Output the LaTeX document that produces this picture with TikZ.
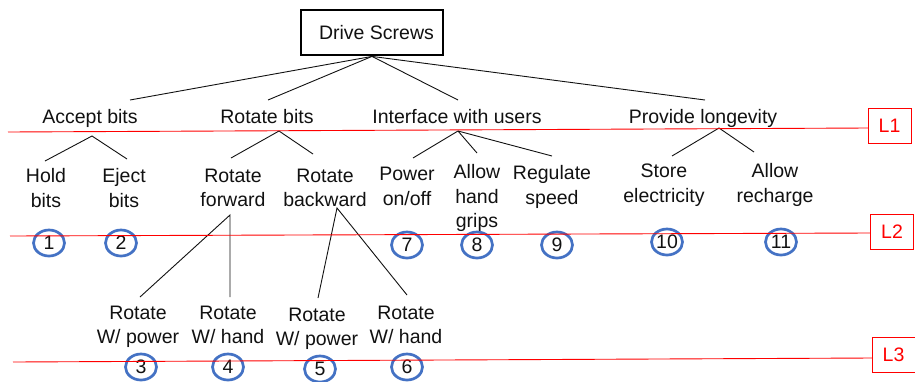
\documentclass[tikz,border=0pt]{standalone}
\usepackage{fontspec}
\setmainfont{Liberation Sans}
\usetikzlibrary{shapes.geometric}
\definecolor{ringblue}{HTML}{4472C4}
\definecolor{levelred}{HTML}{FF0000}
\definecolor{ink}{HTML}{111111}

\begin{document}
\begin{tikzpicture}[x=1bp,y=-1bp,
  lbl/.style={font=\fontsize{19.5bp}{24.5bp}\selectfont, align=center, inner sep=0pt, text=ink},
  topbox/.style={draw=black, line width=2.8bp, minimum width=142bp, minimum height=45bp,
                 font=\fontsize{19.5bp}{24bp}\selectfont, text=ink, inner sep=0pt},
  link/.style={draw=ink, line width=0.9bp},
  ring/.style={ellipse, draw=ringblue, line width=2.7bp, minimum width=31bp, minimum height=26bp,
               inner sep=0pt, font=\fontsize{19.5bp}{20bp}\selectfont, text=ink},
  levelline/.style={draw=levelred, line width=0.9bp},
  levelbox/.style={draw=levelred, line width=0.9bp, minimum width=43bp, minimum height=35bp,
                   inner sep=0pt, font=\fontsize{19.5bp}{20bp}\selectfont, text=levelred},
]
\useasboundingbox (0,0) rectangle (915,381);

% root (title sits a little right of the box centre)
\node[topbox] (DS) at (372,32.5) {\hspace*{9bp}Drive Screws};

% level 1 functions
\node[lbl, anchor=base] (ab) at (90,123)  {Accept bits};
\node[lbl, anchor=base] (rb) at (267,123) {Rotate bits};
\node[lbl, anchor=base] (iu) at (457,123) {Interface with users};
\node[lbl, anchor=base] (pl) at (703,123) {Provide longevity};

% level 2 functions
\node[lbl] (hold)  at (46,188)    {Hold\\bits};
\node[lbl] (eject) at (124,188)   {Eject\\bits};
\node[lbl] (rfwd)  at (233,188)   {Rotate\\forward};
\node[lbl] (rbwd)  at (325,188)   {Rotate\\backward};
\node[lbl] (pow)   at (407,186.4) {Power\\on/off};
\node[lbl] (grip)  at (477,198.4) {Allow\\hand\\grips};
\node[lbl] (reg)   at (552,187)   {Regulate\\speed};
\node[lbl] (store) at (664,185)   {Store\\electricity};
\node[lbl] (rech)  at (775,185)   {Allow\\recharge};

% level 3 functions
\node[lbl] (rwp1) at (138,327) {Rotate\\W/ power};
\node[lbl] (rwh1) at (228,325) {Rotate\\W/ hand};
\node[lbl] (rwp2) at (317,329) {Rotate\\W/ power};
\node[lbl] (rwh2) at (406,325) {Rotate\\W/ hand};

% numbered markers
\node[ring] (c1)  at (49,243)  {1};
\node[ring] (c2)  at (121,243) {2};
\node[ring] (c7)  at (407,245) {7};
\node[ring] (c8)  at (477,245) {8};
\node[ring] (c9)  at (557,245) {9};
\node[ring] (c10) at (667,242) {10};
\node[ring] (c11) at (781,242) {11};
\node[ring] (c3)  at (141,367) {3};
\node[ring] (c4)  at (228,367) {4};
\node[ring] (c5)  at (320,369) {5};
\node[ring] (c6)  at (407,367) {6};

% level markers
\node[levelbox] (L1) at (889.5,125.5) {L1};
\node[levelbox] (L2) at (892,232)     {L2};
\node[levelbox] (L3) at (893.5,354.5) {L3};

% connector end points
\coordinate (ab-top) at (130,100);
\coordinate (rb-top) at (268,100);
\coordinate (iu-top) at (458,100);
\coordinate (pl-top) at (705,100);
\coordinate (ab-foot) at (92,136);
\coordinate (rb-foot) at (279,131);
\coordinate (iu-foot) at (458,131);
\coordinate (pl-foot) at (719,128);
\coordinate (hold-top)  at (45,161);
\coordinate (eject-top) at (127,159);
\coordinate (rfwd-top)  at (231,158);
\coordinate (rbwd-top)  at (313,154);
\coordinate (pow-top)   at (413,158);
\coordinate (grip-top)  at (477,153);
\coordinate (reg-top)   at (552,156);
\coordinate (store-top) at (672,156);
\coordinate (rech-top)  at (754,152);
\coordinate (rfwd-foot) at (230,215);
\coordinate (rbwd-foot) at (337,208);
\coordinate (rwp1-top) at (140,297);
\coordinate (rwh1-top) at (230,297);
\coordinate (rwp2-top) at (318,298);
\coordinate (rwh2-top) at (407,295);

% tree connectors
\draw[link] (DS.south) -- (ab-top);
\draw[link] (DS.south) -- (rb-top);
\draw[link] (DS.south) -- (iu-top);
\draw[link] (DS.south) -- (pl-top);
\draw[link] (hold-top) -- (ab-foot) -- (eject-top);
\draw[link] (rfwd-top) -- (rb-foot) -- (rbwd-top);
\draw[link] (pow-top) -- (iu-foot) -- (reg-top);
\draw[link] (iu-foot) -- (grip-top);
\draw[link] (store-top) -- (pl-foot) -- (rech-top);
\draw[link] (rwp1-top) -- (rfwd-foot) -- (rwh1-top);
\draw[link] (rwp2-top) -- (rbwd-foot) -- (rwh2-top);

% level lines
\coordinate (l1-start) at (8,132);
\coordinate (l1-end)   at (868,128);
\coordinate (l2-start) at (10,236);
\coordinate (l2-end)   at (870,233);
\coordinate (l3-start) at (13,362);
\coordinate (l3-end)   at (872,358);
\draw[levelline] (l1-start) -- (l1-end);
\draw[levelline] (l2-start) -- (l2-end);
\draw[levelline] (l3-start) -- (l3-end);
\end{tikzpicture}
\end{document}
